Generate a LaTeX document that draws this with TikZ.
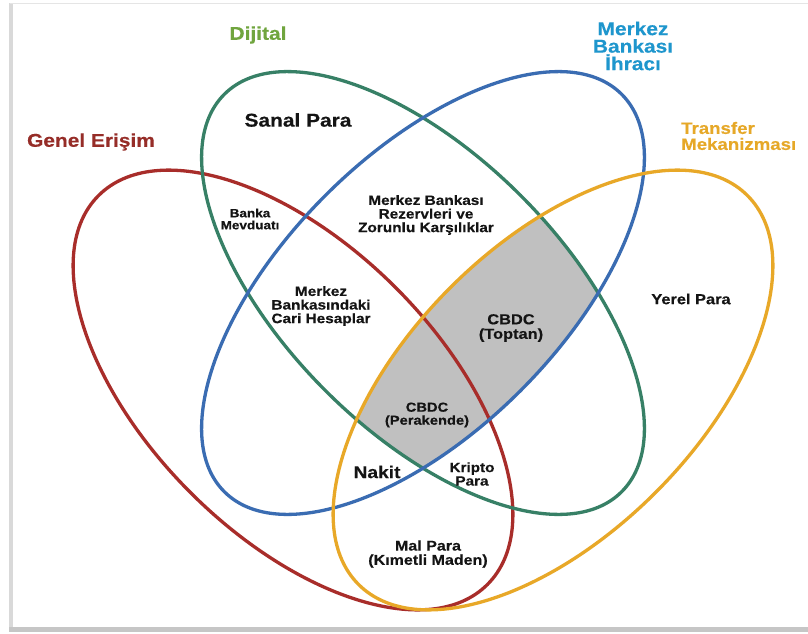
\documentclass[tikz,border=0pt]{standalone}
\usepackage{fontspec}
\setmainfont{Liberation Sans}[FakeStretch=1.13,BoldFeatures={FakeBold=0.35}]
\definecolor{redc}{RGB}{168,45,42}
\definecolor{greenc}{RGB}{55,128,102}
\definecolor{bluec}{RGB}{58,108,178}
\definecolor{yellowc}{RGB}{232,168,40}
\definecolor{gentitle}{RGB}{150,45,40}
\definecolor{dijtitle}{RGB}{112,165,62}
\definecolor{mbtitle}{RGB}{30,150,205}
\definecolor{trtitle}{RGB}{230,168,40}
\definecolor{cbdcgray}{RGB}{192,192,192}
\definecolor{txt}{RGB}{20,20,20}
\begin{document}
\begin{tikzpicture}[x=1pt,y=-1pt,
  ring/.style={line width=3.3pt},
  lbl/.style={inner sep=0pt,align=center,text=txt,font=\bfseries\fontsize{#1}{#1}\selectfont},
  lbl/.default=13.5,
  ttl/.style={inner sep=0pt,align=center,font=\bfseries\fontsize{18.5}{17.5}\selectfont}]
\useasboundingbox (0,0) rectangle (808,634);
\fill[white] (0,0) rectangle (808,634);
% frame shadow
\fill[gray!30] (9,3) rectangle (12.5,632);
\fill[gray!45] (9,627) rectangle (808,632);
\draw[gray!20,line width=1pt] (10,3.5) -- (808,3.5);
% gray CBDC region = yellow n green n blue
\begin{scope}
\clip[rotate around={45:(553,390)}] (553,390) ellipse [x radius=275,y radius=145];
\clip[rotate around={-45:(423,293)}] (423,293) ellipse [x radius=281,y radius=138];
\fill[cbdcgray,rotate around={45:(423,293)}] (423,293) ellipse [x radius=281,y radius=138];
\end{scope}
% rings
\draw[ring,redc,rotate around={-45:(293,390)}] (293,390) ellipse [x radius=275,y radius=145];
\draw[ring,greenc,rotate around={-45:(423,293)}] (423,293) ellipse [x radius=281,y radius=138];
\draw[ring,bluec,rotate around={45:(423,293)}] (423,293) ellipse [x radius=281,y radius=138];
\draw[ring,yellowc,rotate around={45:(553,390)}] (553,390) ellipse [x radius=275,y radius=145];
% titles
\node[ttl,text=dijtitle] (dij) at (258,35) {Dijital};
\node[ttl,text=gentitle] (gen) at (91,142) {Genel Erişim};
\node[ttl,text=mbtitle] (mb) at (633,46) {Merkez\\Bankası\\İhracı};
\node[ttl,text=trtitle,align=left,anchor=west,font=\bfseries\fontsize{16.5}{16}\selectfont] (tr) at (681,136) {Transfer\\Mekanizması};
% labels
\node[lbl=18.5] (sanal) at (298,120) {Sanal Para};
\node[lbl=12] (banka) at (250,219) {Banka\\Mevduatı};
\node[lbl=13.6] (rez) at (426,215) {Merkez Bankası\\Rezervleri ve\\Zorunlu Karşılıklar};
\node[lbl=13.6] (cari) at (321,306) {Merkez\\Bankasındaki\\Cari Hesaplar};
\node[lbl=14.5] (toptan) at (511,328) {CBDC\\(Toptan)};
\node[lbl=13] (perak) at (427,415) {CBDC\\(Perakende)};
\node[lbl=14.5] (yerel) at (691,299) {Yerel Para};
\node[lbl=17] (nakit) at (377,472) {Nakit};
\node[lbl=13.5] (kripto) at (472,474) {Kripto\\Para};
\node[lbl=14.2] (mal) at (428,554) {Mal Para\\(Kımetli Maden)};
\end{tikzpicture}
\end{document}
